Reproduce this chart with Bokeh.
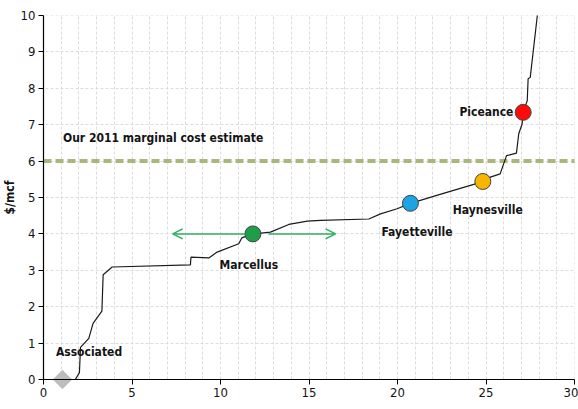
import math
from bokeh.plotting import figure
from bokeh.models import (Label, Arrow, OpenHead, SingleIntervalTicker,
                          FixedTicker, Range1d, ColumnDataSource, BoxAnnotation)
from bokeh.embed import file_html
from bokeh.resources import INLINE

# Supply curve: cumulative volume vs breakeven price
curve_x = [0, 1.8, 2.03, 2.09, 2.56, 2.8, 3.3, 3.37, 3.88, 8.3, 8.33, 9.34, 9.81,
           11.03, 11.2, 11.83, 12.82, 13.86, 14.9, 15.65, 18.38, 19.04, 19.98,
           20.73, 22.5, 24.5, 24.82, 25.25, 25.8, 26.16, 26.72, 26.85, 27.04,
           27.1, 27.33, 27.38, 27.5, 27.9]
curve_y = [0, 0, 0.19, 0.88, 1.13, 1.54, 1.88, 2.88, 3.09, 3.15, 3.36, 3.34, 3.5,
           3.73, 3.89, 4.0, 4.05, 4.26, 4.35, 4.37, 4.41, 4.55, 4.69,
           4.84, 5.1, 5.39, 5.44, 5.56, 5.65, 6.15, 6.22, 6.75, 7.02,
           7.34, 7.66, 8.26, 8.3, 10.0]

# Highlighted basins
basin_names = ["Marcellus", "Fayetteville", "Haynesville", "Piceance"]
basin_x = [11.83, 20.73, 24.82, 27.1]
basin_y = [4.0, 4.84, 5.44, 7.34]
basin_colors = ["#1e9e48", "#1ea3e3", "#f7b500", "#ff0a0a"]

assoc_x = [1.07]
assoc_y = [0.0]

marginal_cost = 6.0
x_ticks = [0, 5, 10, 15, 20, 25, 30]
y_ticks = list(range(0, 11))

FONT = "'DejaVu Sans Condensed', 'Liberation Sans Narrow', 'Liberation Sans'"
TXT = "#141414"

# Page geometry: the data area runs 0..30 x 0..10 inside a margin; the frame
# covers the whole canvas so that axes drawn at fixed locations are not clipped.
W, H = 578, 409
PAD_L, PAD_R, PAD_T, PAD_B = 43, 4, 15, 30
X_LO, X_HI, Y_LO, Y_HI = 0, 30, 0, 10
sx = (W - PAD_L - PAD_R) / (X_HI - X_LO)
sy = (H - PAD_T - PAD_B) / (Y_HI - Y_LO)

p = figure(width=W, height=H, output_backend="svg", toolbar_location=None,
           x_range=Range1d(X_LO - PAD_L / sx, X_HI + PAD_R / sx),
           y_range=Range1d(Y_LO - PAD_B / sy, Y_HI + PAD_T / sy),
           min_border=0)
p.outline_line_color = None
p.background_fill_color = "white"

# grid: every unit, light dashed
for g in (p.xgrid, p.ygrid):
    g.ticker = SingleIntervalTicker(interval=1)
    g.grid_line_color = "#dcdcdc"
    g.grid_line_dash = "3 2"
    g.grid_line_width = 1

# blank the margins outside the data area
for kw in (dict(right=X_LO), dict(left=X_HI), dict(top=Y_LO), dict(bottom=Y_HI)):
    p.add_layout(BoxAnnotation(fill_color="white", fill_alpha=1, line_color=None,
                               level="underlay", **kw))

# axes
for ax in (p.xaxis, p.yaxis):
    ax.axis_line_color = "black"
    ax.axis_line_width = 1.2
    ax.major_tick_line_color = "black"
    ax.major_tick_out = 5
    ax.major_tick_in = 0
    ax.minor_tick_line_color = None
    ax.major_label_text_font = FONT
    ax.major_label_text_font_size = "13px"
    ax.major_label_text_color = TXT
    ax.major_label_standoff = 3
p.xaxis.ticker = FixedTicker(ticks=x_ticks)
p.xaxis.fixed_location = Y_LO
p.xaxis.bounds = (X_LO, X_HI)
p.yaxis.ticker = FixedTicker(ticks=y_ticks)
p.yaxis.fixed_location = X_LO
p.yaxis.bounds = (Y_LO, Y_HI)
p.yaxis.axis_label = "$/mcf"
p.yaxis.axis_label_text_font = FONT
p.yaxis.axis_label_text_font_style = "bold"
p.yaxis.axis_label_text_font_size = "12px"
p.yaxis.axis_label_text_color = TXT
p.yaxis.axis_label_standoff = 1

# marginal cost line across the data area
p.line([X_LO, X_HI], [marginal_cost, marginal_cost], line_color="#a8b77a",
       line_width=4, line_dash="8 4")
p.add_layout(Label(x=1.1, y=marginal_cost, y_offset=23,
                   text="Our 2011 marginal cost estimate",
                   text_font=FONT, text_font_style="bold",
                   text_font_size="12px", text_color=TXT,
                   text_baseline="middle"))

# supply curve
p.line(curve_x, curve_y, line_color="#1a1a1a", line_width=1.2)

# Marcellus range arrows
arrow_col = "#2fae62"
p.add_layout(Arrow(x_start=11.4, y_start=4.0, x_end=7.3, y_end=4.0,
                   line_color=arrow_col, line_width=1.5,
                   end=OpenHead(size=10, line_color=arrow_col, line_width=1.5)))
p.add_layout(Arrow(x_start=12.7, y_start=4.0, x_end=16.5, y_end=4.0,
                   line_color=arrow_col, line_width=1.5,
                   end=OpenHead(size=10, line_color=arrow_col, line_width=1.5)))

# markers
p.scatter(assoc_x, assoc_y, marker="square", angle=math.pi / 4, size=13,
          fill_color="#bdbdbd", line_color="#bdbdbd")
src = ColumnDataSource(dict(x=basin_x, y=basin_y, c=basin_colors))
p.scatter("x", "y", source=src, marker="circle", size=16, fill_color="c",
          line_color="#444444", line_width=1)

# labels
labels = [
    ("Associated", 0.7, 0.0, 28, "left"),
    ("Marcellus", 11.6, 4.0, -31, "center"),
    ("Fayetteville", 21.1, 4.84, -29, "center"),
    ("Haynesville", 25.1, 5.44, -29, "center"),
    ("Piceance", 26.55, 7.34, 0, "right"),
]
for t, lx, ly, yo, al in labels:
    p.add_layout(Label(x=lx, y=ly, y_offset=yo, text=t, text_font=FONT,
                       text_font_style="bold", text_font_size="12px",
                       text_color=TXT, text_align=al, text_baseline="middle"))

open("out.html", "w").write(file_html(p, INLINE))
